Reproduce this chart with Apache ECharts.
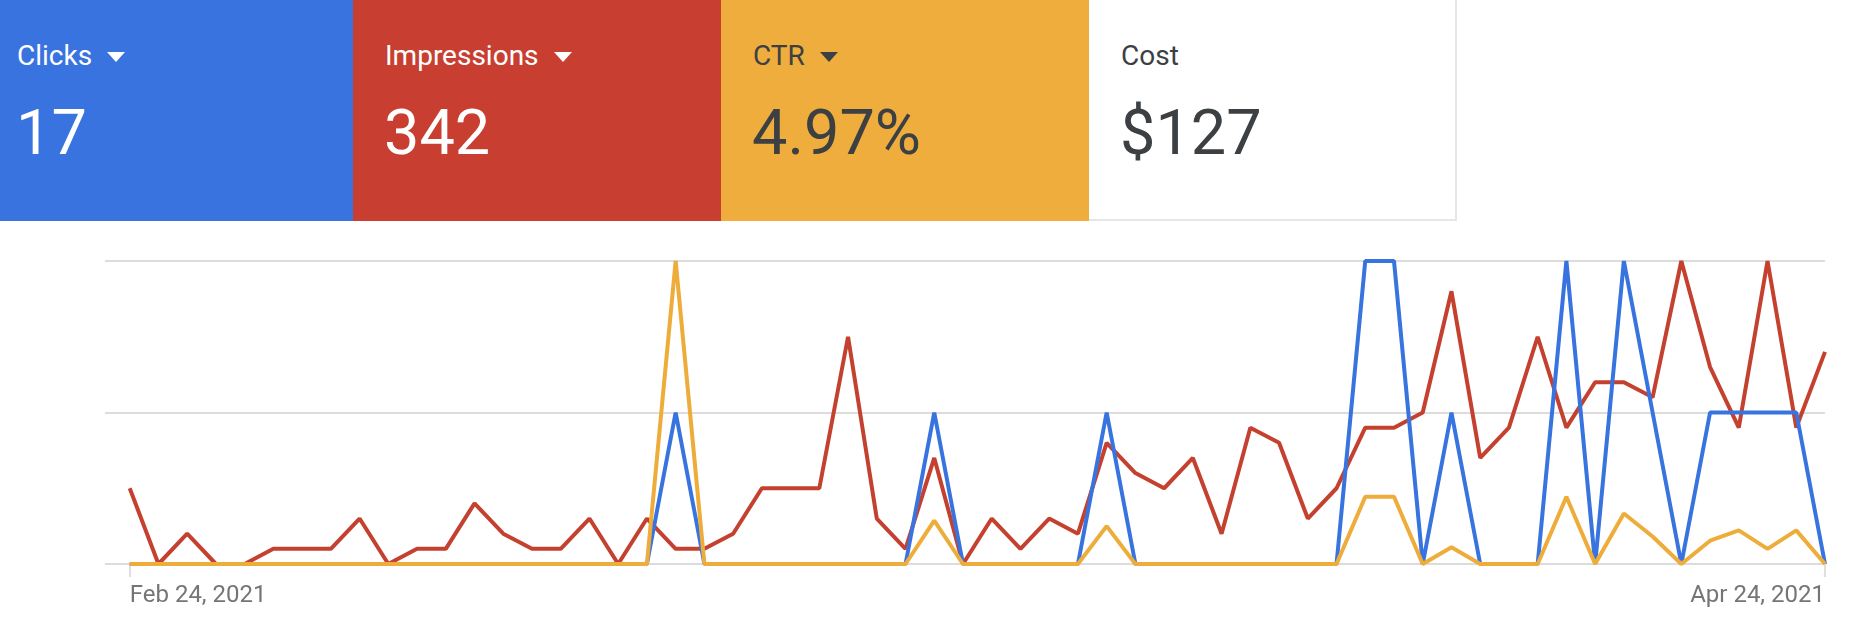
<!DOCTYPE html>
<html>
<head>
    <meta charset="utf-8">
    <title>Clicks / Impressions / CTR</title>
    <script src="https://cdn.jsdelivr.net/npm/echarts@6/dist/echarts.min.js"></script>
    <style>
        html, body {
            margin: 0;
            padding: 0;
            background: #fff;
        }

        #page {
            position: relative;
            width: 1852px;
            height: 630px;
            overflow: hidden;
            font-family: Roboto, "Noto Sans", sans-serif;
        }

        #chart {
            position: absolute;
            left: 0;
            top: 0;
            width: 1852px;
            height: 630px;
        }

        .tile {
            position: absolute;
            top: 0;
            width: 368px;
            height: 221px;
            box-sizing: border-box;
            z-index: 2;
        }

        .tile .name {
            position: absolute;
            left: 32px;
            top: 42px;
            font-size: 28px;
            line-height: 28px;
            white-space: nowrap;
        }

        .tile .total {
            position: absolute;
            left: 31px;
            top: 101px;
            font-size: 63px;
            line-height: 63px;
            white-space: nowrap;
        }

        .caret {
            display: inline-block;
            width: 0;
            height: 0;
            margin-left: 15px;
            border-left: 9.5px solid transparent;
            border-right: 9.5px solid transparent;
            border-top: 10px solid currentColor;
            position: relative;
            top: -3px;
        }
    </style>
</head>
<body>
<div id="page">
    <div id="chart"></div>
    <div id="tiles"></div>
</div>

<script>
    // header tiles
    var metricNames = ['Clicks', 'Impressions', 'CTR', 'Cost'];
    var metricTotals = ['17', '342', '4.97%', '$127'];
    var metricHasCaret = [true, true, true, false];

    // daily values, Feb 24 2021 .. Apr 24 2021 (60 days)
    var clicks = [0, 0, 0, 0, 0, 0, 0, 0, 0, 0,
        0, 0, 0, 0, 0, 0, 0, 0, 0, 1,
        0, 0, 0, 0, 0, 0, 0, 0, 1, 0,
        0, 0, 0, 0, 1, 0, 0, 0, 0, 0,
        0, 0, 0, 2, 2, 0, 1, 0, 0, 0,
        2, 0, 2, 1, 0, 1, 1, 1, 1, 0];
    var impressions = [5, 0, 2, 0, 0, 1, 1, 1, 3, 0,
        1, 1, 4, 2, 1, 1, 3, 0, 3, 1,
        1, 2, 5, 5, 5, 15, 3, 1, 7, 0,
        3, 1, 3, 2, 8, 6, 5, 7, 2, 9,
        8, 3, 5, 9, 9, 10, 18, 7, 9, 15,
        9, 12, 12, 11, 20, 13, 9, 20, 9, 14];
    var ctr = [0, 0, 0, 0, 0, 0, 0, 0, 0, 0,
        0, 0, 0, 0, 0, 0, 0, 0, 0, 100,
        0, 0, 0, 0, 0, 0, 0, 0, 14.29, 0,
        0, 0, 0, 0, 12.5, 0, 0, 0, 0, 0,
        0, 0, 0, 22.22, 22.22, 0, 5.56, 0, 0, 0,
        22.22, 0, 16.67, 9.09, 0, 7.69, 11.11, 5, 11.11, 0];

    // x tick positions (day index) and their labels
    var tickDays = [0, 59];
    var tickLabels = ['Feb 24, 2021', 'Apr 24, 2021'];

    var tileStyles = [
        {left: -15, bg: '#3873e0', color: '#ffffff'},
        {left: 353, bg: '#c83f31', color: '#ffffff'},
        {left: 721, bg: '#eead3c', color: '#3c4043'},
        {left: 1089, bg: '#ffffff', color: '#3c4043', border: '2px solid #e5e6e8'}
    ];

    var html = '';
    for (var t = 0; t < metricNames.length; t++) {
        var s = tileStyles[t];
        var style = 'left:' + s.left + 'px;background:' + s.bg + ';color:' + s.color + ';';
        if (s.border) {
            style += 'border-right:' + s.border + ';border-bottom:' + s.border + ';';
        }
        html += '<div class="tile" style="' + style + '">' +
            '<div class="name">' + metricNames[t] + (metricHasCaret[t] ? '<span class="caret"></span>' : '') + '</div>' +
            '<div class="total">' + metricTotals[t] + '</div>' +
            '</div>';
    }
    document.getElementById('tiles').innerHTML = html;

    function pairs(arr) {
        return arr.map(function (v, i) {
            return [i, v];
        });
    }

    var myChart = echarts.init(document.getElementById('chart'), null, {renderer: 'canvas'});

    var option = {
        animation: false,
        grid: {left: 105, right: 27, top: 261, bottom: 66},
        xAxis: {
            type: 'value',
            min: -0.86,
            max: 59,
            axisLine: {show: false},
            splitLine: {show: false},
            axisTick: {
                show: true,
                customValues: tickDays,
                length: 13,
                lineStyle: {color: '#dcdcdc', width: 1.8}
            },
            axisLabel: {
                customValues: tickDays,
                formatter: function (v) {
                    var k = tickDays.indexOf(Math.round(v));
                    return k >= 0 ? tickLabels[k] : '';
                },
                alignMinLabel: 'left',
                alignMaxLabel: 'right',
                margin: 20,
                fontSize: 24,
                color: '#757575',
                fontFamily: 'Roboto'
            }
        },
        yAxis: [
            {
                // clicks scale, also draws the three grid lines
                type: 'value', min: 0, max: 2, interval: 1,
                axisLine: {show: false}, axisTick: {show: false}, axisLabel: {show: false},
                splitLine: {show: true, lineStyle: {color: '#dcdcdc', width: 1.8}}
            },
            {
                type: 'value', min: 0, max: 20, show: false,
                splitLine: {show: false}
            },
            {
                type: 'value', min: 0, max: 100, show: false,
                splitLine: {show: false}
            }
        ],
        series: [
            {
                name: 'Impressions', type: 'line', yAxisIndex: 1,
                data: pairs(impressions), showSymbol: false, z: 2,
                lineStyle: {color: '#c5412f', width: 4}
            },
            {
                name: 'Clicks', type: 'line', yAxisIndex: 0,
                data: pairs(clicks), showSymbol: false, z: 3,
                lineStyle: {color: '#3874e0', width: 4}
            },
            {
                name: 'CTR', type: 'line', yAxisIndex: 2,
                data: pairs(ctr), showSymbol: false, z: 4,
                lineStyle: {color: '#eead3b', width: 4}
            }
        ]
    };

    myChart.setOption(option, true);

    window.onresize = function () {
        myChart.resize();
    };
</script>
</body>
</html>
